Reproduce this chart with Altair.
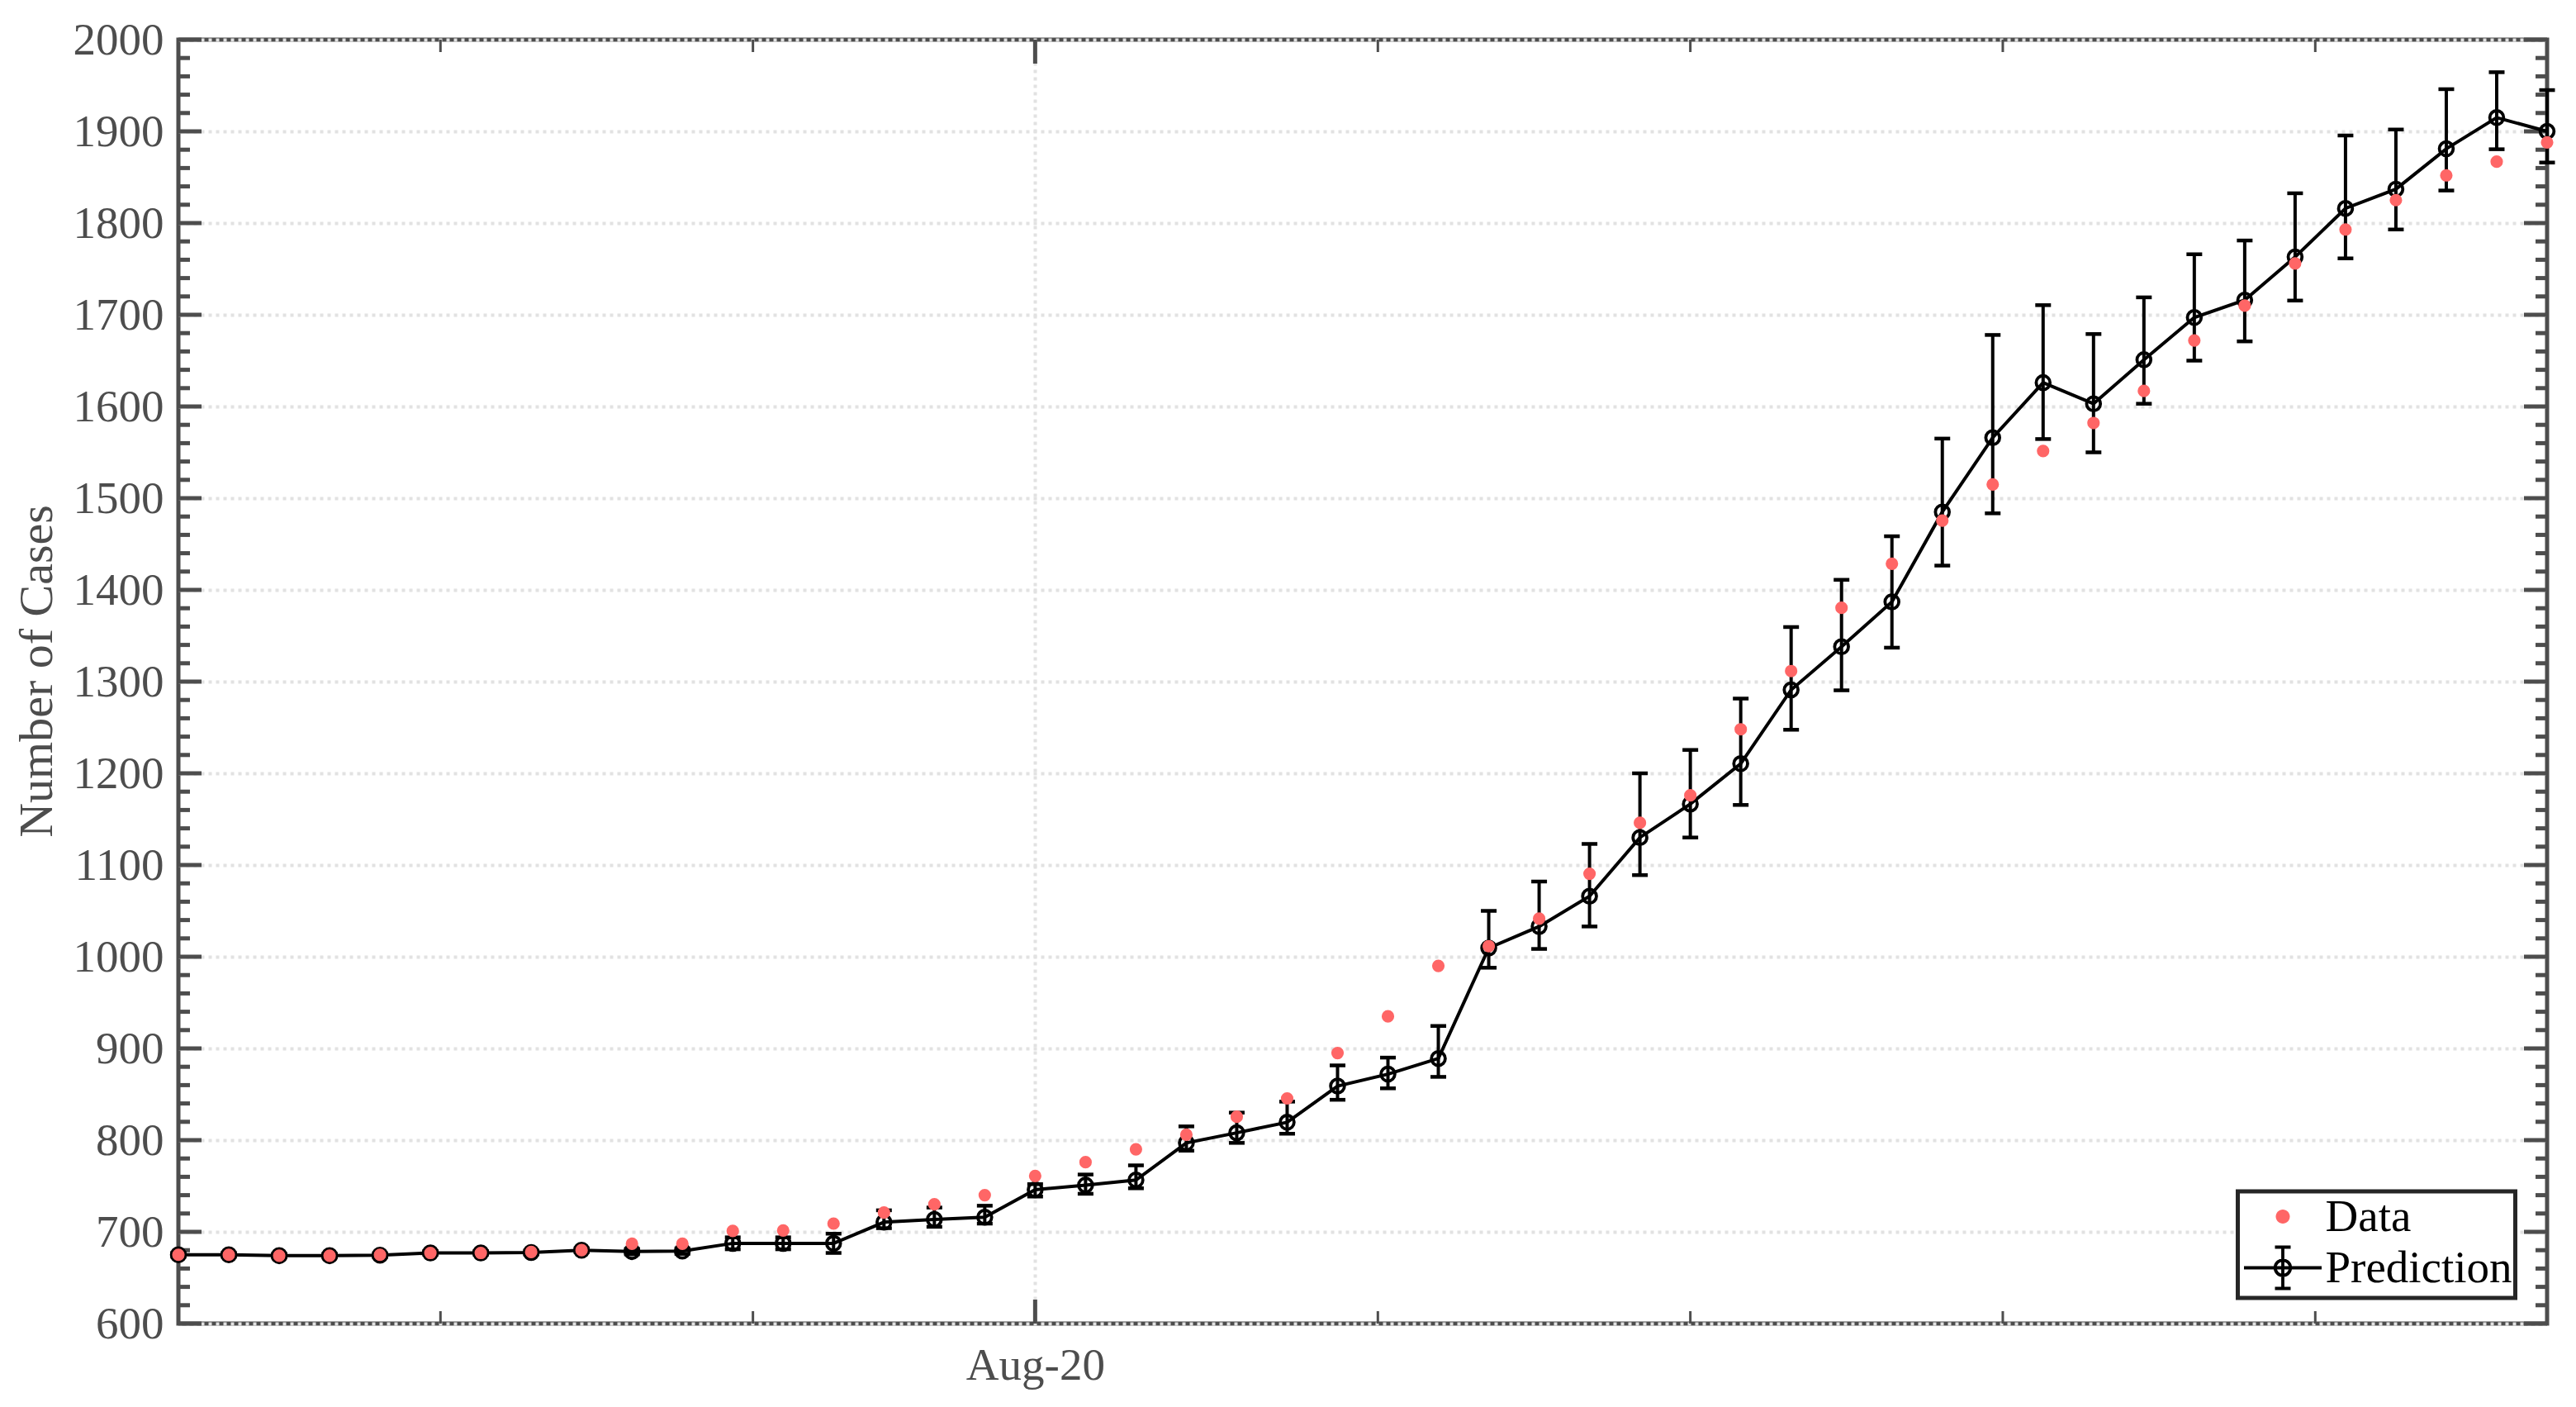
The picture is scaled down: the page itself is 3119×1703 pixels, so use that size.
import altair as alt
import pandas as pd

# ---------------- data ----------------
days = list(range(48))

data_cases = [675, 675, 674, 674, 675, 677, 677, 678, 680, 687, 687,
              701, 701.5, 709,
              721, 730, 740,
              761, 776, 790,
              806, 825.5, 845.5,
              895, 935, 990,
              1011.5, 1041.5, 1090.5,
              1146, 1176, 1248,
              1311.5, 1380.5, 1428.5,
              1475.5, 1515, 1551.5,
              1582, 1617, 1672,
              1710, 1756, 1793,
              1825, 1852, 1867, 1888]

pred_cases = [675, 675, 674, 674, 674.5, 677, 677, 677.5, 680, 678.5, 679,
              687.5, 687.5, 687.5,
              710.5, 713.5, 716,
              746, 751, 756.5,
              797, 808, 819.5,
              859, 872, 889,
              1009.5, 1033, 1066,
              1130, 1166.5, 1210.5,
              1291, 1338, 1387,
              1485, 1566, 1626,
              1603, 1651, 1697,
              1716, 1763, 1816,
              1837, 1881, 1915, 1900]

pred_lower = [673, 673, 672, 672, 672.5, 675, 675, 675.5, 678, 675.5, 676,
              681, 681, 677,
              704, 705.5, 709,
              738.5, 741.5, 747.5,
              788.5, 797, 807,
              844, 856.5, 869,
              988, 1008.5, 1033,
              1089, 1130, 1165.5,
              1247.5, 1290.5, 1337,
              1426.5, 1483.5, 1564.5,
              1550, 1603, 1650,
              1671, 1715.5, 1761.5,
              1793, 1835.5, 1880.5, 1866]

pred_upper = [677, 677, 676, 676, 676.5, 679, 679, 679.5, 682, 681.5, 682,
              694, 694, 698,
              723.5, 726.5, 728.5,
              752, 762.5, 772.5,
              815, 830, 842,
              881.5, 890, 924.5,
              1050, 1082, 1123,
              1200, 1225.5, 1281.5,
              1359.5, 1411, 1458.5,
              1565, 1678, 1710.5,
              1679, 1719, 1766,
              1781, 1832.5, 1895.5,
              1902, 1946, 1964.5, 1945]

x_major_ticks = [17]
x_major_labels = ["Aug-20"]
x_minor_ticks = [5.2, 11.4, 23.8, 30.0, 36.2, 42.4]
y_major_ticks = list(range(600, 2001, 100))
y_minor_ticks = [v for v in range(600, 2001, 20) if v % 100 != 0]
series_names = ["Data", "Prediction"]

# ---------------- style ----------------
W, H = 2868, 1554
AXIS = "#4d4d4d"
RED = "#ff6666"
FONT = "Liberation Serif"
GRID = "#e2e2e2"

df = pd.DataFrame({"day": days, "data": data_cases, "pred": pred_cases,
                   "lo": pred_lower, "hi": pred_upper})
caps = pd.DataFrame({"day": days + days, "v": pred_lower + pred_upper})
ymaj = pd.DataFrame({"v": y_major_ticks})
ymin = pd.DataFrame({"v": y_minor_ticks})
xmaj = pd.DataFrame({"d": x_major_ticks})
xmin = pd.DataFrame({"d": x_minor_ticks})
legend_df = pd.DataFrame({"series": series_names})

xs = alt.Scale(domain=[0, 47], nice=False, zero=False)
ys = alt.Scale(domain=[600, 2000], nice=False, zero=False)

label_expr = "".join(f"datum.value == {v} ? '{l}' : " for v, l in zip(x_major_ticks, x_major_labels)) + "''"

x_axis = alt.Axis(values=x_major_ticks, labelExpr=label_expr, title=None,
                  grid=True, gridColor=GRID, gridDash=[4, 5], gridWidth=4,
                  domain=False, tickSize=0, labelPadding=24,
                  labelFont=FONT, labelFontSize=55, labelColor=AXIS)
y_axis = alt.Axis(values=y_major_ticks, format="d", title="Number of Cases",
                  grid=True, gridColor=GRID, gridDash=[4, 5], gridWidth=4,
                  domain=False, tickSize=0, labelPadding=18,
                  labelFont=FONT, labelFontSize=55, labelColor=AXIS,
                  titleFont=FONT, titleFontSize=58, titleFontWeight="normal",
                  titleColor=AXIS, titleX=-154, titleY=764, titleAngle=270,
                  titleAlign="center", titleBaseline="alphabetic")


def X(f):
    return alt.X(f, scale=xs, axis=x_axis)


def Y(f):
    return alt.Y(f, scale=ys, axis=y_axis)


layers = []
# y ticks (inward), left and right
for d, L in ((ymaj, 28), (ymin, 14)):
    layers.append(alt.Chart(d).mark_rule(color=AXIS, strokeWidth=5).encode(
        y=Y("v:Q"), x=alt.value(0), x2=alt.value(L)))
    layers.append(alt.Chart(d).mark_rule(color=AXIS, strokeWidth=5).encode(
        y=Y("v:Q"), x=alt.value(W - L), x2=alt.value(W)))
# x ticks (inward), bottom and top
for d, L, sw in ((xmaj, 29, 5), (xmin, 15, 3)):
    layers.append(alt.Chart(d).mark_rule(color=AXIS, strokeWidth=sw).encode(
        x=X("d:Q"), y=alt.value(H - L), y2=alt.value(H)))
    layers.append(alt.Chart(d).mark_rule(color=AXIS, strokeWidth=sw).encode(
        x=X("d:Q"), y=alt.value(0), y2=alt.value(L)))

# error bars
layers.append(alt.Chart(df).mark_rule(color="black", strokeWidth=4).encode(
    x=X("day:Q"), y=Y("lo:Q"), y2="hi:Q"))
layers.append(alt.Chart(caps).mark_tick(orient="horizontal", size=19, thickness=4.5,
                                        color="black", opacity=1).encode(
    x=X("day:Q"), y=Y("v:Q")))
# prediction line + hollow circles
layers.append(alt.Chart(df).mark_line(color="black", strokeWidth=4).encode(
    x=X("day:Q"), y=Y("pred:Q")))
layers.append(alt.Chart(df).mark_point(shape="circle", filled=False, color="black",
                                       strokeWidth=3.8, size=280, opacity=1).encode(
    x=X("day:Q"), y=Y("pred:Q")))
# data dots
layers.append(alt.Chart(df).mark_circle(color=RED, size=230, opacity=1).encode(
    x=X("day:Q"), y=Y("data:Q")))

# legend (invisible carrier layer); symbol unit = 25 px (symbolSize 2500)
DISK = "M-0.34,0A0.34,0.34,0,1,1,0.34,0A0.34,0.34,0,1,1,-0.34,0Z"
PRED_SYM = ("M-1.88,0H1.88M-0.37,0A0.37,0.37,0,1,1,0.37,0A0.37,0.37,0,1,1,-0.37,0"
            "M0,-1.0V1.0M-0.38,-1.0H0.38M-0.38,1.0H0.38")
LEG = alt.Legend(title=None, orient="none", legendX=2493.5, legendY=1394,
                 symbolSize=2500, symbolFillColor="transparent", symbolOpacity=1,
                 symbolStrokeWidth=3.8, symbolOffset=24,
                 labelFont=FONT, labelFontSize=55, labelColor="black",
                 labelOffset=24, labelLimit=500, padding=3, rowPadding=0,
                 strokeColor="#262626", fillColor="white")
layers.append(alt.Chart(legend_df).mark_point(opacity=0, strokeWidth=3.8).encode(
    fill=alt.Fill("series:N", scale=alt.Scale(domain=series_names, range=[RED, "transparent"]), legend=LEG),
    stroke=alt.Stroke("series:N", scale=alt.Scale(domain=series_names, range=["transparent", "black"]), legend=LEG),
    shape=alt.Shape("series:N", scale=alt.Scale(domain=series_names, range=[DISK, PRED_SYM]), legend=LEG),
))

chart = alt.layer(*layers).properties(
    width=W, height=H,
    autosize=alt.AutoSizeParams(type="none"),
    padding={"left": 208, "top": 40, "right": 27, "bottom": 93},
    background="white",
).configure_view(stroke=AXIS, strokeWidth=5).configure_legend(strokeWidth=5)

chart.save("out.html", embed_options={"renderer": "svg", "actions": False})
